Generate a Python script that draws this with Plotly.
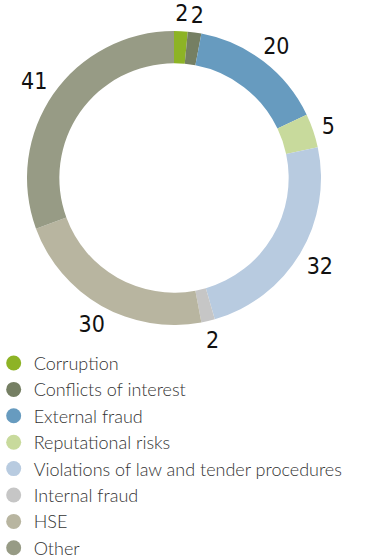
import numpy as np
import plotly.graph_objects as go

# Categories and values read from the donut
categories = ["Corruption", "Conflicts of interest", "External fraud", "Reputational risks",
              "Violations of law and tender procedures", "Internal fraud", "HSE", "Other"]
values = [2, 2, 20, 5, 32, 2, 30, 41]
colors = ["#8db325", "#757f63", "#679bbf", "#c8da9c", "#b8cbe0", "#c6c6c6", "#b8b5a0", "#979b85"]

W, H = 372, 560
cx, cy, R = 174, 178, 147     # donut centre / outer radius in px
RP = cx                        # radius of the polar overlay used for labels
LY = cy + 3                    # overlay centre (text baseline compensation)
LABEL_SIZE = 23

fig = go.Figure()

fig.add_trace(go.Pie(
    labels=categories, values=values, sort=False, direction="clockwise", rotation=0,
    hole=0.78, marker=dict(colors=colors, line=dict(width=0)),
    textinfo="none", showlegend=False, hoverinfo="label+value",
    domain=dict(x=[(cx - R) / W, (cx + R) / W], y=[1 - (cy + R) / H, 1 - (cy - R) / H]),
))

# value labels: each label box sits a small gap outside the ring at the slice's mid angle
cum = np.cumsum(values)
mid = (cum - np.array(values) / 2) / cum[-1] * 360
texts = [str(v) for v in values]
half_w = np.array([0.46 * LABEL_SIZE * len(t) / 2 + 0.5 for t in texts])
half_h = 8.5
th = np.radians(mid)
with np.errstate(divide="ignore"):
    reach = np.minimum(half_w / np.abs(np.sin(th)), half_h / np.abs(np.cos(th)))
r_lab = (157 + reach) / R

fig.add_trace(go.Scatterpolar(
    r=r_lab, theta=mid, mode="text", text=texts, textposition="middle center",
    textfont=dict(family="Liberation Sans Narrow, DejaVu Sans Condensed", size=LABEL_SIZE, color="#111"),
    cliponaxis=False, showlegend=False, hoverinfo="skip",
))

# legend entries with round markers
for i, (name, col) in enumerate(zip(categories, colors)):
    fig.add_trace(go.Scatterpolar(
        r=[None], theta=[None], mode="markers", name=name, legendgroup=str(i),
        marker=dict(symbol="circle", size=15, color=col),
    ))

fig.update_layout(
    width=W, height=H, margin=dict(l=0, r=0, t=0, b=0, autoexpand=False),
    paper_bgcolor="white",
    polar=dict(domain=dict(x=[0, 2 * RP / W], y=[1 - (LY + RP) / H, 1 - (LY - RP) / H]),
               bgcolor="rgba(0,0,0,0)",
               radialaxis=dict(visible=False, range=[0, RP / R]),
               angularaxis=dict(visible=False, rotation=90, direction="clockwise")),
    legend=dict(x=-0.017, y=0.3843, xanchor="left", yanchor="top", orientation="v",
                bgcolor="rgba(0,0,0,0)",
                font=dict(family="Lato", size=18, color="#333", weight=300),
                tracegroupgap=0, itemwidth=30),
)

# drop the browser's default page margin so the figure fills the window
fig.write_html("out.html", config={"displayModeBar": False},
               post_script="document.body.style.margin='0px';")
